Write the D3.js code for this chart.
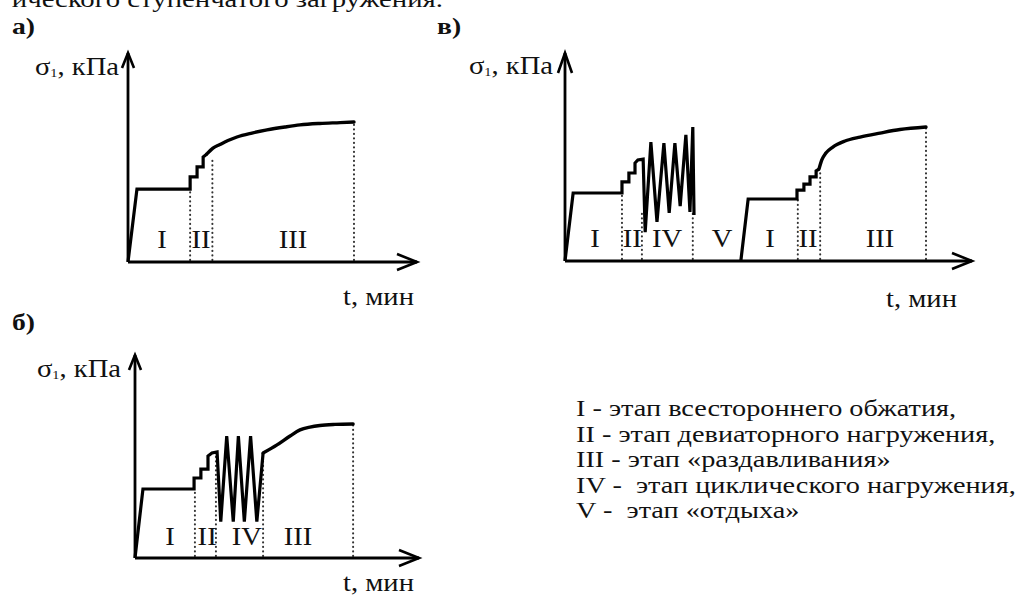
<!DOCTYPE html>
<html><head><meta charset="utf-8">
<script src="https://cdn.jsdelivr.net/npm/d3@7"></script>
<style>html,body{margin:0;padding:0;background:#fff;} svg{display:block;}</style>
</head><body>
<svg id="c" width="1023" height="599"></svg>
<script>
// ---------- DATA (t in relative time units 0..100, σ1 in relative kPa units 0..100) ----------
// Panel а)
const aSteps = [[0,0],[3.1,34.9],[21.5,34.9],[21.5,40.7],[23.9,40.7],[23.9,45.5],[26.0,45.5],[26.0,50.2],[27.3,51.7]];
const aCurve = [[27.3,51.7],[29.4,54.5],[31.8,56.2],[34.6,58.1],[37.7,59.8],[42.9,61.7],[48.1,63.2],[54.3,64.6],[59.5,65.6],[66.4,66.3],[73.4,66.7],[78.2,67.0]];
const aDividers = [[21.5,34.9],[29.2,48.8],[78.2,67.0]];
const aStages = [["I",11.8],["II",25.3],["III",57.1]];

// Panel б)
const bSteps = [[0,0],[2.8,34.0],[20.8,34.0],[20.8,39.4],[23.2,39.4],[23.2,43.8],[25.7,43.8],[25.7,50.2],[27.1,51.7],[28.9,52.2],
  [30.2,17.9],[32.3,60.1],[34.6,17.9],[36.4,60.1],[38.5,17.9],[40.7,60.1],[42.9,17.9],[45.1,51.7]];
const bCurve = [[45.1,51.7],[50.0,55.7],[54.6,60.1],[58.1,63.1],[61.6,64.5],[65.1,65.3],[70.4,65.8],[76.8,66.0]];
const bDividers = [[21.1,34.0],[28.5,52.0],[45.1,51.7],[76.8,66.0]];
const bStages = [["I",12.3],["II",25.4],["IV",39.4],["III",57.4]];

// Panel в)
const vSteps1 = [[0,0],[2.0,32.7],[14.0,32.7],[14.0,38.0],[15.7,38.0],[15.7,42.3],[17.2,42.3],[17.2,47.1],[17.9,48.6],[19.2,49.0],
  [19.7,13.9],[21.1,57.2],[22.6,18.8],[24.3,56.7],[25.6,23.1],[27.0,56.7],[28.3,26.4],[29.7,60.6],[30.7,23.6],[31.4,64.4],[31.7,22.1]];
const vSteps2 = [[43.2,0],[45.0,29.8],[57.0,29.8],[57.0,34.1],[58.7,34.1],[58.7,37.0],[60.2,37.0],[60.2,40.4],[61.7,40.4],[61.7,43.3],[62.4,44.2]];
const vCurve = [[62.4,44.2],[63.1,48.6],[64.1,51.9],[65.8,54.8],[68.8,57.7],[72.5,59.6],[77.4,61.5],[82.3,63.2],[88.7,64.4]];
const vDividers = [[14.0,32.7],[18.9,24.0],[31.4,23.0],[57.2,29.8],[62.7,44.0],[88.7,64.4]];
const vStages = [["I",7.4],["II",16.5],["IV",25.1],["V",38.6],["I",50.4],["II",59.7],["III",77.4]];

const stageLabelLevel = 6.6;
const panelTags = ["а)","б)","в)"];
const axisY = "σ";
const axisYsub = "1";
const axisYunit = ", кПа";
const axisX = "t, мин";
const legendItems = ["I - этап всестороннего обжатия,","II - этап девиаторного нагружения,","III - этап «раздавливания»","IV -  этап циклического нагружения,","V -  этап «отдыха»"];
const topText = "ического ступенчатого загружения.";

// ---------- DRAWING ----------
const svg = d3.select("#c");
const FONT = "Liberation Serif, Tinos, Times New Roman, serif";
const SX = 1.1;
const FS = 26;

function label(g, x, y, str, o = {}) {
  return g.append("text")
    .attr("transform", `translate(${x},${y}) scale(${o.sx || SX},1)`)
    .attr("text-anchor", o.anchor || "start")
    .attr("font-family", FONT)
    .attr("font-size", o.size || FS)
    .attr("font-weight", o.weight || "normal")
    .attr("fill", "#111")
    .style("white-space", "pre")
    .text(str);
}

function panel(cfg) {
  const g = svg.append("g");
  const x = d3.scaleLinear().domain([0, 100]).range([cfg.ox, cfg.tipX]);
  const y = d3.scaleLinear().domain([0, 100]).range([cfg.oy, cfg.topY]);
  const lin = d3.line().x(d => x(d[0])).y(d => y(d[1]));
  const smooth = d3.line().x(d => x(d[0])).y(d => y(d[1])).curve(d3.curveMonotoneX);

  // dotted stage dividers
  g.selectAll("line.div").data(cfg.dividers).enter().append("line")
    .attr("x1", d => x(d[0])).attr("x2", d => x(d[0]))
    .attr("y1", y(0) - 2).attr("y2", d => y(d[1]))
    .attr("stroke", "#333").attr("stroke-width", 2.1)
    .attr("stroke-linecap", "round")
    .attr("stroke-dasharray", "0.1,4.4");

  // axes
  g.append("path").attr("d", lin([[0,0],[0,100]])).attr("stroke","#000").attr("stroke-width",2.8).attr("fill","none");
  g.append("path").attr("d", lin([[0,0],[100,0]])).attr("stroke","#000").attr("stroke-width",2.8).attr("fill","none");
  const tx = x(100), ty = y(0), ux = x(0), uy = y(100);
  g.append("path").attr("d", `M${tx-20},${ty-8}L${tx},${ty}L${tx-20},${ty+8}`)
    .attr("stroke","#000").attr("stroke-width",2.6).attr("fill","none");
  g.append("path").attr("d", `M${ux-cfg.ah[1]},${uy+cfg.ah[0]}L${ux},${uy}L${ux+cfg.ah[1]},${uy+cfg.ah[0]}`)
    .attr("stroke","#000").attr("stroke-width",2.6).attr("fill","none");

  // data lines
  cfg.steps.forEach(s => g.append("path").attr("d", lin(s)).attr("fill","none")
    .attr("stroke","#000").attr("stroke-width",3.2).attr("stroke-linejoin","miter").attr("stroke-miterlimit",12));
  cfg.curves.forEach(s => g.append("path").attr("d", smooth(s)).attr("fill","none")
    .attr("stroke","#000").attr("stroke-width",3.4).attr("stroke-linecap","round"));

  // stage numerals
  cfg.stages.forEach(s => label(g, x(s[1]), y(stageLabelLevel), s[0], {anchor:"middle"}));

  // axis titles
  const t = g.append("text")
    .attr("transform", `translate(${cfg.sigX},${cfg.sigY}) scale(${SX},1)`)
    .attr("text-anchor","end").attr("font-family",FONT).attr("font-size",FS).attr("fill","#111");
  t.append("tspan").text(axisY);
  t.append("tspan").attr("font-size",13).attr("dy",2).text(axisYsub);
  t.append("tspan").attr("dy",-2).text(axisYunit);
  label(g, cfg.tX, cfg.tY, axisX);

  // panel tag
  label(g, cfg.tagX, cfg.tagY, cfg.tag, {size:24, weight:"bold", sx:1.15});
}

label(svg, 443, 7, topText, {anchor:"end", size:23, sx:1.25});

panel({ox:128, oy:262, tipX:417, topY:53, ah:[15,6],
  steps:[aSteps], curves:[aCurve], dividers:aDividers, stages:aStages,
  sigX:119, sigY:75, tX:343, tY:305, tag:panelTags[0], tagX:12, tagY:34});

panel({ox:135, oy:558, tipX:419, topY:355, ah:[15,6],
  steps:[bSteps], curves:[bCurve], dividers:bDividers, stages:bStages,
  sigX:121, sigY:377, tX:343, tY:591, tag:panelTags[1], tagX:12, tagY:330});

panel({ox:565, oy:261, tipX:972, topY:53, ah:[20,7],
  steps:[vSteps1, vSteps2], curves:[vCurve], dividers:vDividers, stages:vStages,
  sigX:553, sigY:74, tX:886, tY:307, tag:panelTags[2], tagX:437, tagY:34});

// legend
const lg = svg.append("g");
legendItems.forEach((s, i) => label(lg, 576, 416 + i * 25.6, s, {size:23, sx:1.23}));
</script>
</body></html>
